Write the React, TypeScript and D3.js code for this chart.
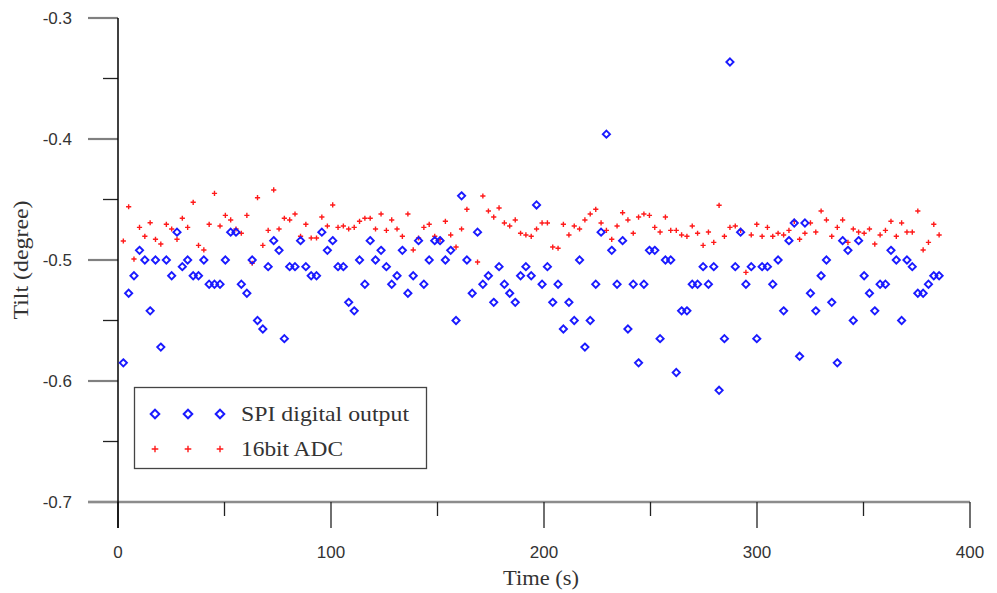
import React from "react";
import * as d3 from "d3";

const TIME_S = [
  2.5, 5.0, 7.5, 10.1, 12.6, 15.1, 17.6, 20.1, 22.7, 25.2,
  27.7, 30.2, 32.7, 35.3, 37.8, 40.3, 42.8, 45.3, 47.9, 50.4,
  52.9, 55.4, 57.9, 60.5, 63.0, 65.5, 68.0, 70.5, 73.1, 75.6,
  78.1, 80.6, 83.1, 85.7, 88.2, 90.7, 93.2, 95.7, 98.3, 100.8,
  103.3, 105.8, 108.3, 110.9, 113.4, 115.9, 118.4, 120.9, 123.5, 126.0,
  128.5, 131.0, 133.5, 136.1, 138.6, 141.1, 143.6, 146.1, 148.7, 151.2,
  153.7, 156.2, 158.7, 161.3, 163.8, 166.3, 168.8, 171.3, 173.9, 176.4,
  178.9, 181.4, 183.9, 186.5, 189.0, 191.5, 194.0, 196.5, 199.1, 201.6,
  204.1, 206.6, 209.1, 211.7, 214.2, 216.7, 219.2, 221.7, 224.3, 226.8,
  229.3, 231.8, 234.3, 236.9, 239.4, 241.9, 244.4, 246.9, 249.5, 252.0,
  254.5, 257.0, 259.5, 262.1, 264.6, 267.1, 269.6, 272.1, 274.7, 277.2,
  279.7, 282.2, 284.7, 287.3, 289.8, 292.3, 294.8, 297.3, 299.9, 302.4,
  304.9, 307.4, 309.9, 312.5, 315.0, 317.5, 320.0, 322.5, 325.1, 327.6,
  330.1, 332.6, 335.1, 337.7, 340.2, 342.7, 345.2, 347.7, 350.3, 352.8,
  355.3, 357.8, 360.3, 362.9, 365.4, 367.9, 370.4, 372.9, 375.5, 378.0,
  380.5, 383.0, 385.5,
];

const SPI_DIGITAL = [
  -0.585, -0.5275, -0.513, -0.492, -0.5, -0.542, -0.5, -0.572, -0.5, -0.513,
  -0.477, -0.5055, -0.5, -0.513, -0.513, -0.5, -0.52, -0.52, -0.52, -0.5,
  -0.477, -0.477, -0.52, -0.5275, -0.5, -0.55, -0.557, -0.5055, -0.484, -0.492,
  -0.565, -0.5055, -0.5055, -0.484, -0.5055, -0.513, -0.513, -0.477, -0.492, -0.484,
  -0.5055, -0.5055, -0.535, -0.542, -0.5, -0.52, -0.484, -0.5, -0.492, -0.5055,
  -0.52, -0.513, -0.492, -0.5275, -0.513, -0.484, -0.52, -0.5, -0.484, -0.484,
  -0.5, -0.492, -0.55, -0.447, -0.5, -0.5275, -0.477, -0.52, -0.513, -0.535,
  -0.5055, -0.52, -0.5275, -0.535, -0.513, -0.5055, -0.513, -0.4545, -0.52, -0.5055,
  -0.535, -0.52, -0.557, -0.535, -0.55, -0.5, -0.572, -0.55, -0.52, -0.477,
  -0.396, -0.492, -0.52, -0.484, -0.557, -0.52, -0.585, -0.52, -0.492, -0.492,
  -0.565, -0.5, -0.5, -0.593, -0.542, -0.542, -0.52, -0.52, -0.5055, -0.52,
  -0.5055, -0.6077, -0.565, -0.3364, -0.5055, -0.477, -0.52, -0.5055, -0.565, -0.5055,
  -0.5055, -0.52, -0.5, -0.542, -0.484, -0.4694, -0.5796, -0.4694, -0.5275, -0.542,
  -0.513, -0.5, -0.535, -0.585, -0.484, -0.492, -0.55, -0.484, -0.513, -0.5275,
  -0.542, -0.52, -0.52, -0.492, -0.5, -0.55, -0.5, -0.5055, -0.5275, -0.5275,
  -0.52, -0.513, -0.513,
];

const ADC_16BIT: (number | null)[] = [
  -0.4843, -0.456, -0.4992, -0.473, -0.4804, -0.4692, -0.4829, -0.4868, -0.4705, -0.4744,
  -0.4829, -0.4655, -0.473, -0.4523, -0.4879, -0.4917, -0.4705, -0.4449, -0.4719, -0.4631,
  -0.4669, -0.4744, -0.4779, -0.4631, -0.5027, -0.4485, -0.4879, -0.4755, -0.4421, -0.4744,
  -0.4655, -0.4669, -0.462, -0.4804, -0.4705, -0.4818, -0.4818, -0.4645, -0.4719, -0.4545,
  -0.473, -0.4719, -0.4744, -0.473, -0.468, -0.4655, -0.4655, -0.4744, -0.462, -0.4755,
  -0.4669, -0.4744, -0.4804, -0.462, -0.4917, -0.4818, -0.473, -0.4705, -0.4804, -0.4829,
  -0.468, -0.4793, -0.4893, -0.4744, -0.4581, null, -0.5017, -0.4471, -0.4595, -0.4645,
  -0.457, -0.4694, -0.4719, -0.4669, -0.4779, -0.4793, -0.4804, -0.4744, -0.4694, -0.4694,
  -0.4893, -0.4903, -0.4705, -0.4793, -0.4719, -0.4744, -0.4669, -0.462, -0.4581, -0.4694,
  -0.4755, -0.4829, -0.4719, -0.4609, -0.4669, -0.4779, -0.4645, -0.462, -0.4631, -0.473,
  -0.4769, -0.4645, -0.4755, -0.4755, -0.4793, -0.4804, -0.4719, -0.4779, -0.4879, -0.4769,
  -0.4854, -0.4548, -0.4804, -0.473, -0.4719, -0.4755, -0.5102, -0.4793, -0.4705, -0.4804,
  -0.473, -0.4804, -0.4779, -0.4793, -0.4755, -0.468, -0.4829, -0.4779, -0.4694, -0.4769,
  -0.4595, -0.4669, -0.4804, -0.473, -0.4669, -0.4854, -0.4744, -0.4769, -0.4779, -0.4744,
  -0.4868, -0.4793, -0.4755, -0.468, -0.4804, -0.4694, -0.4769, -0.4769, -0.4595, -0.4917,
  -0.4854, -0.4705, -0.4793,
];

const X_TICKS = [0, 100, 200, 300, 400];
const X_MINOR = [50, 150, 250, 350];
const Y_TICKS = [-0.3, -0.4, -0.5, -0.6, -0.7];
const Y_MINOR = [-0.35, -0.45, -0.55, -0.65];
const SERIES_NAMES = ["SPI digital output", "16bit ADC"];
const X_TITLE = "Time (s)";
const Y_TITLE = "Tilt (degree)";

const BLUE = "#1a1aff";
const RED = "#ff1a1a";
const SERIF = "'Liberation Serif', 'Times New Roman', serif";
const SANS = "'Liberation Sans', Arial, sans-serif";

function Diamond({ cx, cy, r, sw }: { cx: number; cy: number; r: number; sw: number }) {
  const p = `M${cx},${cy - r}L${cx + r},${cy}L${cx},${cy + r}L${cx - r},${cy}Z`;
  return <path d={p} fill="none" stroke={BLUE} strokeWidth={sw} />;
}

function Plus({ cx, cy, r, sw }: { cx: number; cy: number; r: number; sw: number }) {
  const p = `M${cx - r},${cy}H${cx + r}M${cx},${cy - r}V${cy + r}`;
  return <path d={p} fill="none" stroke={RED} strokeWidth={sw} />;
}

export default function App() {
  const W = 997;
  const H = 593;
  const x = d3.scaleLinear().domain([0, 400]).range([118, 970]);
  const y = d3.scaleLinear().domain([-0.7, -0.3]).range([502, 18]);
  const fmt = (v: number) => v.toFixed(1);

  const blue = TIME_S.map((t, i) => ({ t, v: SPI_DIGITAL[i] })).filter((d) => d.v != null);
  const red = TIME_S.map((t, i) => ({ t, v: ADC_16BIT[i] })).filter((d) => d.v != null) as { t: number; v: number }[];

  const x0 = x(0);
  const yBase = y(-0.7);

  return (
    <svg
      width={W}
      height={H}
      style={{ position: "absolute", left: 0, top: 0, background: "#fff" }}
    >
      {Y_TICKS.map((v) => (
        <line key={"ym" + v} x1={88} x2={x0} y1={y(v)} y2={y(v)} stroke="#808080" strokeWidth={2.2} />
      ))}
      {Y_MINOR.map((v) => (
        <line key={"yn" + v} x1={103} x2={x0} y1={y(v)} y2={y(v)} stroke="#222" strokeWidth={1.3} />
      ))}
      <line x1={88} x2={x(400)} y1={yBase} y2={yBase} stroke="#8c8c8c" strokeWidth={2.6} />
      {X_TICKS.map((v) => (
        <line key={"xm" + v} x1={x(v)} x2={x(v)} y1={yBase} y2={yBase + 26} stroke="#222" strokeWidth={1.3} />
      ))}
      {X_MINOR.map((v) => (
        <line key={"xn" + v} x1={x(v)} x2={x(v)} y1={yBase} y2={yBase + 14} stroke="#222" strokeWidth={1.3} />
      ))}
      <line x1={x0} x2={x0} y1={y(-0.3)} y2={yBase + 26} stroke="#000" strokeWidth={1.5} />

      {Y_TICKS.map((v) => (
        <text
          key={"yl" + v}
          x={72}
          y={y(v)}
          textAnchor="end"
          dominantBaseline="central"
          fontFamily={SANS}
          fontSize={17}
          fill="#333"
        >
          {fmt(v)}
        </text>
      ))}
      {X_TICKS.map((v) => (
        <text
          key={"xl" + v}
          x={x(v)}
          y={552}
          textAnchor="middle"
          dominantBaseline="central"
          fontFamily={SANS}
          fontSize={17}
          fill="#333"
        >
          {v}
        </text>
      ))}

      <text
        x={x(200) - 3}
        y={578}
        textAnchor="middle"
        dominantBaseline="central"
        fontFamily={SERIF}
        fontSize={21}
        fill="#333"
        textLength={76}
        lengthAdjust="spacingAndGlyphs"
      >
        {X_TITLE}
      </text>
      <text
        transform={`translate(21, ${y(-0.5)}) rotate(-90)`}
        textAnchor="middle"
        dominantBaseline="central"
        fontFamily={SERIF}
        fontSize={21}
        fill="#333"
        textLength={119}
        lengthAdjust="spacingAndGlyphs"
      >
        {Y_TITLE}
      </text>

      {red.map((d, i) => (
        <Plus key={"r" + i} cx={x(d.t)} cy={y(d.v)} r={2.6} sw={1.4} />
      ))}
      {blue.map((d, i) => (
        <Diamond key={"b" + i} cx={x(d.t)} cy={y(d.v)} r={3.6} sw={1.9} />
      ))}

      <rect x={134.5} y={387.5} width={292} height={81} fill="#fff" stroke="#444" strokeWidth={1.3} />
      {[155, 188, 220].map((lx) => (
        <Diamond key={"ld" + lx} cx={lx} cy={414} r={4.3} sw={2} />
      ))}
      {[155, 188, 220].map((lx) => (
        <Plus key={"lp" + lx} cx={lx} cy={449} r={3.3} sw={1.4} />
      ))}
      <text
        x={241}
        y={414}
        dominantBaseline="central"
        fontFamily={SERIF}
        fontSize={21}
        fill="#333"
        textLength={168}
        lengthAdjust="spacingAndGlyphs"
      >
        {SERIES_NAMES[0]}
      </text>
      <text
        x={241}
        y={449}
        dominantBaseline="central"
        fontFamily={SERIF}
        fontSize={21}
        fill="#333"
        textLength={102}
        lengthAdjust="spacingAndGlyphs"
      >
        {SERIES_NAMES[1]}
      </text>
    </svg>
  );
}
